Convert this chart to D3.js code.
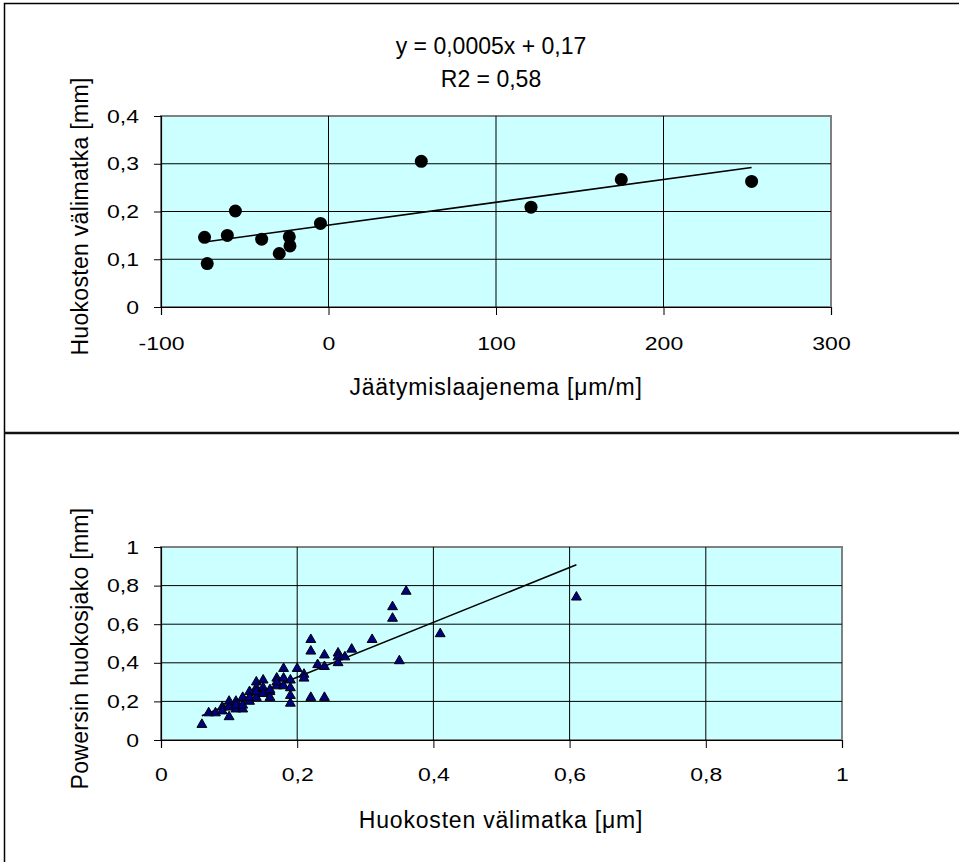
<!DOCTYPE html>
<html>
<head>
<meta charset="utf-8">
<script src="https://cdn.jsdelivr.net/npm/d3@7"></script>
<style>
  body { margin: 0; background: #fff; }
  svg text { font-family: "Liberation Sans", Arial, sans-serif; fill: #000; }
</style>
</head>
<body>
<svg id="chart" width="959" height="862"></svg>
<script>
// top chart: Jäätymislaajenema vs huokosten välimatka
const expansion = [-74, -72.4, -60.4, -55.6, -39.9, -29.4, -23.4, -23, -4.8, 55.4, 120.9, 174.8, 252.6];
const spacingTop = [0.146, 0.091, 0.150, 0.201, 0.142, 0.112, 0.147, 0.128, 0.175, 0.305, 0.209, 0.267, 0.263];
const topXTicks = [-100, 0, 100, 200, 300];
const topYTicks = [0, 0.1, 0.2, 0.3, 0.4];
const topEquation = ["y = 0,0005x + 0,17", "R2 = 0,58"];

// bottom chart: huokosten välimatka vs Powersin huokosjako
const spacingBottom = [0.06,0.07,0.08,0.09,0.09,0.10,0.10,0.10,0.11,0.11,0.11,0.12,0.12,0.12,0.13,0.13,0.13,
  0.14,0.14,0.14,0.14,0.15,0.15,0.15,0.16,0.16,0.16,0.17,0.17,0.17,0.18,0.18,0.18,0.19,0.19,0.19,0.19,
  0.20,0.21,0.21,0.22,0.22,0.22,0.23,0.24,0.24,0.24,0.26,0.26,0.26,0.27,0.28,0.31,0.34,0.34,0.35,0.36,0.41,0.61];
const powers = [0.08,0.14,0.14,0.17,0.15,0.20,0.12,0.17,0.20,0.16,0.18,0.22,0.16,0.18,0.25,0.20,0.22,
  0.30,0.27,0.22,0.25,0.31,0.27,0.24,0.25,0.22,0.26,0.32,0.28,0.30,0.37,0.32,0.28,0.31,0.27,0.23,0.19,
  0.37,0.34,0.32,0.52,0.46,0.22,0.39,0.44,0.38,0.22,0.45,0.43,0.40,0.43,0.47,0.52,0.69,0.63,0.41,0.77,0.55,0.74];
const botXTicks = [0, 0.2, 0.4, 0.6, 0.8, 1];
const botYTicks = [0, 0.2, 0.4, 0.6, 0.8, 1];

const fi = d3.formatLocale({decimal: ",", thousands: " ", grouping: [3], currency: ["", ""], minus: "-"});
const fmt = fi.format("~g");

const svg = d3.select("#chart");
const SX = 1.21; // tick labels are stretched wide in the original

// outer frame + divider
svg.append("rect").attr("x", 4.5).attr("y", 3.5).attr("width", 970).attr("height", 880)
  .attr("fill", "none").attr("stroke", "#000").attr("stroke-width", 1.5);
svg.append("line").attr("x1", 4).attr("x2", 959).attr("y1", 433).attr("y2", 433)
  .attr("stroke", "#111").attr("stroke-width", 2.5);

function fit(xs, ys) {
  const mx = d3.mean(xs), my = d3.mean(ys);
  const b = d3.sum(xs, (x, i) => (x - mx) * (ys[i] - my)) / d3.sum(xs, x => (x - mx) * (x - mx));
  return { b: b, a: my - b * mx };
}

function panel(opt) {
  const x = d3.scaleLinear().domain(d3.extent(opt.xTicks)).range([opt.left, opt.right]);
  const y = d3.scaleLinear().domain(d3.extent(opt.yTicks)).range([opt.bottom, opt.top]);
  const g = svg.append("g");

  g.append("rect").attr("x", opt.left).attr("y", opt.top)
    .attr("width", opt.right - opt.left).attr("height", opt.bottom - opt.top)
    .attr("fill", "#ccffff").attr("stroke", "#808080").attr("stroke-width", 2);

  // grid
  g.append("g").selectAll("line").data(opt.yTicks.slice(1, -1)).enter().append("line")
    .attr("x1", opt.left).attr("x2", opt.right).attr("y1", d => y(d)).attr("y2", d => y(d))
    .attr("stroke", "#000").attr("stroke-width", 1);
  g.append("g").selectAll("line").data(opt.xTicks.slice(1, -1)).enter().append("line")
    .attr("y1", opt.top).attr("y2", opt.bottom).attr("x1", d => x(d)).attr("x2", d => x(d))
    .attr("stroke", "#000").attr("stroke-width", 1);

  // axes
  const ax = g.append("g").attr("transform", `translate(0,${opt.bottom})`)
    .call(d3.axisBottom(x).tickValues(opt.xTicks).tickFormat(fmt).tickSize(8).tickPadding(opt.xPad));
  const ay = g.append("g").attr("transform", `translate(${opt.left},0)`)
    .call(d3.axisLeft(y).tickValues(opt.yTicks).tickFormat(fmt).tickSize(7).tickPadding(15));
  [ax, ay].forEach(a => {
    a.select(".domain").attr("stroke", "#000").attr("stroke-width", 1.2);
    a.selectAll(".tick line").attr("stroke", "#000");
    a.selectAll(".tick text").attr("font-size", 19).attr("fill", "#000")
      .attr("font-family", "Liberation Sans, Arial, sans-serif")
      .attr("transform", `scale(${SX},1)`);
  });
  ay.selectAll(".tick text").attr("x", -22 / SX);

  // trend line
  const t = fit(opt.xs, opt.ys);
  const ext = d3.extent(opt.xs);
  g.append("path")
    .attr("d", d3.line().x(d => x(d)).y(d => y(t.a + t.b * d))(ext))
    .attr("stroke", "#000").attr("stroke-width", 1.6).attr("fill", "none");

  // markers
  if (opt.marker === "circle") {
    g.append("g").selectAll("circle").data(opt.xs).enter().append("circle")
      .attr("cx", d => x(d)).attr("cy", (d, i) => y(opt.ys[i])).attr("r", 6.5)
      .attr("fill", "#000");
  } else {
    const sym = d3.symbol().type(d3.symbolTriangle).size(42);
    g.append("g").selectAll("path").data(opt.xs).enter().append("path")
      .attr("d", sym)
      .attr("transform", (d, i) => `translate(${x(d)},${y(opt.ys[i])})`)
      .attr("fill", "#000080").attr("stroke", "#000").attr("stroke-width", 1);
  }

  // titles
  g.append("text").attr("x", opt.xTitleX).attr("y", opt.xTitleY)
    .attr("text-anchor", "middle").attr("font-size", 23).attr("letter-spacing", 0.8)
    .text(opt.xTitle);
  g.append("text").attr("transform", `translate(87.5,${(opt.top + opt.bottom) / 2 + 5}) rotate(-90)`)
    .attr("text-anchor", "middle").attr("font-size", 23).attr("letter-spacing", 0.3)
    .text(opt.yTitle);
  return g;
}

panel({
  xs: expansion, ys: spacingTop, xTicks: topXTicks, yTicks: topYTicks,
  left: 161, right: 831, top: 116, bottom: 307, xPad: 22, marker: "circle",
  xTitle: "Jäätymislaajenema [μm/m]", xTitleX: 496, xTitleY: 395,
  yTitle: "Huokosten välimatka [mm]"
});

svg.append("g").selectAll("text").data(topEquation).enter().append("text")
  .attr("x", 491).attr("y", (d, i) => 54 + i * 33)
  .attr("text-anchor", "middle").attr("font-size", 23)
  .text(d => d);

panel({
  xs: spacingBottom, ys: powers, xTicks: botXTicks, yTicks: botYTicks,
  left: 161, right: 842, top: 547, bottom: 740, xPad: 20, marker: "triangle",
  xTitle: "Huokosten välimatka [μm]", xTitleX: 501, xTitleY: 828,
  yTitle: "Powersin huokosjako [mm]"
});
</script>
</body>
</html>
